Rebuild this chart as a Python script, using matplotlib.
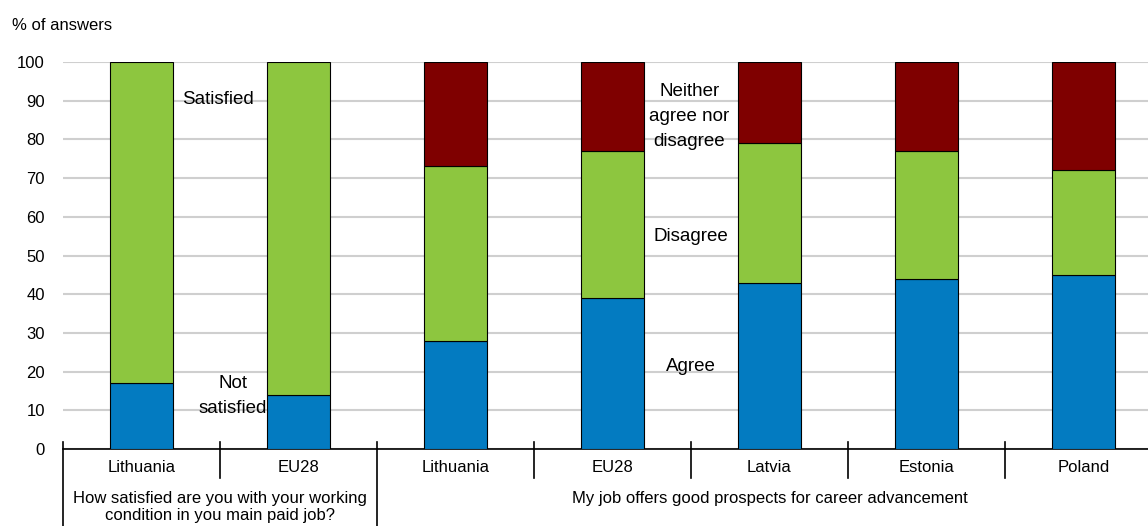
import numpy as np
import matplotlib.pyplot as plt
import matplotlib.transforms as mtransforms

plt.rcParams['font.family'] = ['Liberation Sans', 'DejaVu Sans']

categories = ['Lithuania', 'EU28', 'Lithuania', 'EU28', 'Latvia', 'Estonia', 'Poland']
# first two bars: not satisfied / satisfied; others: agree / disagree / neither
bottom_vals = [17, 14, 28, 39, 43, 44, 45]
middle_vals = [83, 86, 45, 38, 36, 33, 27]
top_vals = [0, 0, 27, 23, 21, 23, 28]
group_labels = ['How satisfied are you with your working\ncondition in you main paid job?',
                'My job offers good prospects for career advancement']

blue = '#037BC1'
green = '#8DC63F'
red = '#7F0000'

fig = plt.figure(figsize=(11.48, 5.26), dpi=100)
ax = fig.add_axes([63 / 1148, 77 / 526, 1 - 63 / 1148, 387 / 526])

x = np.arange(len(categories))
bottom_vals = np.array(bottom_vals)
middle_vals = np.array(middle_vals)
top_vals = np.array(top_vals)
w = 0.4
ax.bar(x, bottom_vals, w, color=blue, edgecolor='black', linewidth=0.8, zorder=3)
ax.bar(x, middle_vals, w, bottom=bottom_vals, color=green, edgecolor='black', linewidth=0.8, zorder=3)
ax.bar(x[2:], top_vals[2:], w, bottom=(bottom_vals + middle_vals)[2:], color=red,
       edgecolor='black', linewidth=0.8, zorder=3)

ax.set_ylim(0, 100)
ax.set_xlim(-0.5, -0.5 + (1148 - 63) / 157)
ax.set_yticks(range(0, 101, 10))
ax.yaxis.grid(True, color='#CFCFCF', linewidth=1.5, zorder=0)
ax.tick_params(axis='y', length=0, pad=13, labelsize=12)
ax.set_xticks([])
for s in ['left', 'right', 'top']:
    ax.spines[s].set_visible(False)
ax.spines['bottom'].set_linewidth(1.2)

trans = mtransforms.blended_transform_factory(ax.transData, ax.transAxes)
for i, c in enumerate(categories):
    ax.text(i, -0.048, c, transform=trans, ha='center', va='center', fontsize=12)

# separators between categories and groups
group_edges = [-0.5, 1.5]
for b in np.arange(-0.5, len(categories) + 0.5, 1):
    bottom = -0.199 if b in group_edges else -0.075
    ax.plot([b, b], [0.018, bottom], transform=trans, color='black', linewidth=1.2, clip_on=False)

ax.text(0.5, -0.108, group_labels[0], transform=trans, ha='center', va='top', fontsize=12,
        linespacing=1.15)
ax.text(4.0, -0.108, group_labels[1], transform=trans, ha='center', va='top', fontsize=12)

# in-chart labels
lab = dict(ha='center', va='center', fontsize=13.5, zorder=4)
ax.text(0.49, 90.4, 'Satisfied', **lab)
ax.text(0.58, 13.7, 'Not\nsatisfied', linespacing=1.62, **lab)
ax.text(3.49, 86, 'Neither\nagree nor\ndisagree', linespacing=1.62, **lab)
ax.text(3.5, 54.8, 'Disagree', **lab)
ax.text(3.5, 21.4, 'Agree', **lab)

fig.text(12 / 1148, 1 - 25 / 526, '% of answers', ha='left', va='center', fontsize=12)

fig.savefig('out.png', dpi=100)
